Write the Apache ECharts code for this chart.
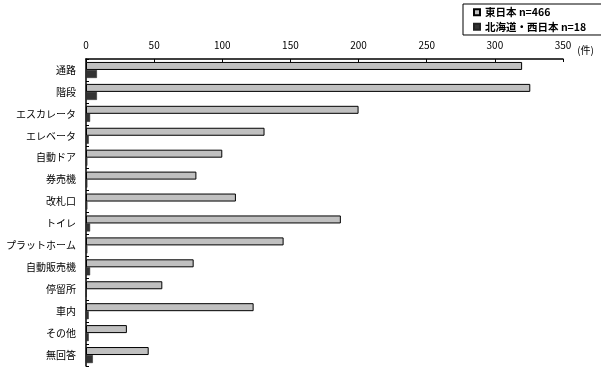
<!DOCTYPE html>
<html><head><meta charset="utf-8">
<script src="https://cdn.jsdelivr.net/npm/echarts@6/dist/echarts.min.js"></script>
<style>html,body{margin:0;padding:0;background:#fff}#c{width:601px;height:371px}</style>
</head><body><div id="c"></div>
<script>
const categories = ['通路','階段','エスカレータ','エレベータ','自動ドア','券売機','改札口','トイレ','プラットホーム','自動販売機','停留所','車内','その他','無回答'];
const eastJapan = [320, 326, 200, 131, 100, 81, 110, 187, 145, 79, 56, 123, 30, 46];
const hokkaidoWest = [8, 8, 3, 2, 1, 1, 1, 3, 1, 3, 0.5, 2, 2, 5];
const seriesNames = ['東日本 n=466', '北海道・西日本 n=18'];

const FONT = '"Noto Sans CJK JP", sans-serif';
const chart = echarts.init(document.getElementById('c'), null, {renderer: 'canvas'});
chart.setOption({
  animation: false,
  backgroundColor: '#fff',
  textStyle: {fontFamily: FONT, color: '#000'},
  legend: {
    data: seriesNames,
    orient: 'vertical',
    left: 463, top: 4,
    borderColor: '#000', borderWidth: 1,
    padding: [3, 22, 3, 10],
    itemGap: 4,
    itemWidth: 6, itemHeight: 6,
    icon: 'rect',
    textStyle: {fontSize: 10.5, color: '#000', fontFamily: FONT, fontWeight: 'bold'}
  },
  grid: {left: 86, right: 38, top: 59, bottom: 5, containLabel: false, outerBoundsMode: 'none'},
  xAxis: {
    type: 'value', position: 'top', min: 0, max: 350, interval: 50,
    name: '(件)', nameLocation: 'end', nameGap: 2,
    nameTextStyle: {fontSize: 10, color: '#000', verticalAlign: 'top', padding: [-14, 0, 0, 0]},
    axisLine: {show: true, lineStyle: {color: '#000', width: 1.5}},
    axisTick: {show: true, inside: true, length: 3, lineStyle: {color: '#000'}},
    axisLabel: {fontSize: 10, color: '#000', margin: 9},
    splitLine: {show: false}
  },
  yAxis: {
    type: 'category', data: categories, inverse: true,
    axisLine: {show: true, lineStyle: {color: '#000', width: 1.5}},
    axisTick: {show: true, inside: true, length: 3, lineStyle: {color: '#000'}},
    axisLabel: {fontSize: 10, color: '#000', margin: 10}
  },
  series: [
    {name: seriesNames[0], type: 'bar', data: eastJapan, barWidth: 8, barGap: '0%',
     itemStyle: {color: '#c0c0c0', borderColor: '#000', borderWidth: 1}},
    {name: seriesNames[1], type: 'bar', data: hokkaidoWest, barWidth: 8, barGap: '0%',
     itemStyle: {color: '#333333', borderColor: '#222', borderWidth: 0.5}}
  ]
});
</script></body></html>
